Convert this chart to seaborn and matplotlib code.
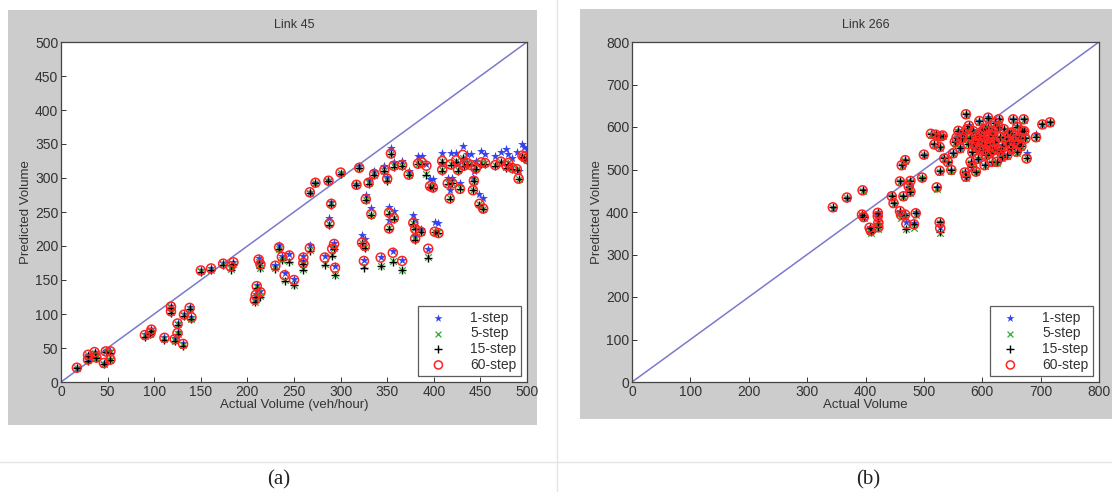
import numpy as np
import pandas as pd
import matplotlib
matplotlib.use("Agg")
import matplotlib.pyplot as plt
import seaborn as sns
from matplotlib.patches import Rectangle
from matplotlib.lines import Line2D

sns.set_theme(style="white")
plt.rcParams['font.family'] = ['Liberation Sans', 'DejaVu Sans']

series_names = ["1-step", "5-step", "15-step", "60-step"]

# ---- Link 45 data: actual, 1-step, 5-step, 15-step, 60-step ----
l45_actual = [17, 29, 29, 36, 38, 46, 48, 53, 53, 90, 96, 97, 111, 118, 118, 122, 125, 125, 131, 132,
              138, 140, 150, 161, 174, 182, 185, 208, 209, 210, 212, 214, 214, 230, 234, 237, 240, 245, 250, 260,
              260, 267, 267, 273, 283, 287, 288, 290, 291, 293, 294, 300, 317, 320, 323, 326, 325, 327, 330, 333,
              336, 343, 347, 350, 352, 352, 354, 356, 357, 357, 366, 366, 373, 378, 380, 380, 383, 386, 387, 392,
              394, 396, 399, 401, 405, 409, 409, 415, 417, 418, 420, 424, 426, 428, 431, 432, 436, 440, 442, 443,
              445, 449, 451, 453, 455, 466, 472, 478, 480, 484, 489, 491, 495, 497, 500]
l45_p1 = [21, 40, 33, 44, 36, 28, 46, 46, 34, 70, 73, 78, 66, 112, 105, 64, 87, 73, 57, 100,
          110, 96, 164, 168, 175, 171, 177, 122, 129, 142, 182, 134, 175, 172, 201, 186, 160, 188, 152, 185,
          178, 201, 280, 293, 185, 297, 241, 264, 199, 205, 170, 308, 291, 318, 216, 210, 180, 275, 297, 256,
          311, 184, 317, 302, 258, 238, 344, 192, 252, 323, 179, 325, 310, 246, 238, 215, 332, 225, 332, 320,
          196, 298, 298, 236, 234, 337, 320, 300, 282, 337, 300, 337, 320, 292, 347, 327, 336, 335, 300, 310,
          325, 277, 340, 270, 335, 333, 338, 343, 335, 330, 338, 310, 350, 345, 343]
l45_p5 = [20, 39, 32, 43, 35, 27, 45, 44, 33, 67, 70, 76, 63, 110, 103, 61, 85, 71, 54, 98,
          108, 93, 163, 165, 173, 166, 174, 118, 126, 139, 176, 126, 168, 167, 196, 180, 150, 178, 143, 174,
          166, 194, 278, 292, 173, 296, 232, 262, 187, 197, 158, 307, 289, 315, 205, 198, 170, 268, 292, 246,
          305, 171, 311, 297, 248, 226, 336, 178, 241, 317, 165, 318, 305, 234, 226, 210, 321, 221, 322, 306,
          184, 288, 287, 221, 220, 325, 312, 292, 270, 320, 293, 325, 312, 285, 330, 318, 322, 320, 283, 296,
          314, 262, 322, 255, 322, 319, 324, 316, 322, 314, 313, 299, 332, 330, 327]
l45_p15 = [20, 38, 31, 42, 35, 26, 44, 43, 32, 66, 70, 75, 62, 109, 102, 60, 84, 70, 53, 97,
           107, 92, 162, 164, 172, 165, 173, 117, 125, 138, 175, 125, 167, 166, 195, 179, 149, 177, 142, 173,
           165, 193, 278, 292, 172, 295, 231, 261, 186, 196, 157, 306, 289, 314, 204, 197, 168, 267, 291, 245,
           304, 170, 310, 296, 247, 225, 335, 177, 240, 316, 164, 317, 304, 233, 225, 209, 320, 220, 321, 305,
           183, 287, 286, 220, 219, 324, 311, 291, 269, 319, 292, 324, 311, 284, 329, 317, 321, 319, 282, 295,
           313, 261, 321, 254, 321, 318, 323, 315, 321, 313, 312, 298, 331, 329, 326]
l45_p60 = [21, 40, 33, 44, 36, 28, 45, 45, 33, 69, 72, 77, 65, 111, 104, 63, 86, 72, 56, 99,
           109, 95, 164, 167, 174, 170, 176, 121, 128, 141, 180, 132, 173, 171, 198, 184, 157, 186, 150, 183,
           175, 197, 279, 293, 183, 296, 233, 262, 196, 203, 168, 308, 290, 315, 205, 200, 178, 269, 293, 247,
           306, 183, 312, 299, 249, 226, 336, 190, 241, 318, 178, 319, 305, 234, 225, 211, 321, 221, 323, 318,
           196, 288, 286, 221, 219, 325, 312, 292, 270, 320, 292, 326, 312, 284, 334, 318, 322, 319, 282, 296,
           314, 262, 323, 255, 322, 319, 324, 318, 322, 315, 313, 299, 333, 331, 328]

# ---- Link 266 data ----
l266_actual = [344, 368, 395, 394, 397, 407, 409, 421, 421, 422, 422, 445, 448, 459, 462, 468, 465, 459, 461, 468,
               470, 474, 477, 477, 483, 486, 497, 500, 522, 527, 527, 528, 512, 518, 527, 532, 535, 541, 547, 550,
               553, 559, 565, 570, 572, 572, 574, 577, 580, 583, 583, 586, 589, 589, 592, 595, 595, 598, 601, 604,
               604, 604, 607, 610, 613, 613, 613, 616, 619, 619, 622, 625, 625, 628, 631, 631, 634, 637, 643, 643,
               650, 650, 653, 656, 659, 662, 668, 671, 674, 676, 692, 703, 716,
               520, 528, 556, 562, 568, 575, 579, 585, 588, 592, 596, 600, 603, 606, 609, 612, 615, 618, 621, 627,
               633, 640, 646, 648, 655, 660, 665, 667, 672]
l266_p1 = [409, 434, 452, 395, 389, 365, 358, 400, 392, 378, 366, 437, 422, 472, 510, 522, 437, 403, 395, 395,
           376, 460, 448, 473, 373, 399, 481, 535, 460, 497, 377, 364, 584, 559, 553, 580, 526, 518, 499, 538,
           565, 592, 573, 493, 483, 631, 596, 604, 518, 542, 507, 561, 580, 495, 526, 615, 549, 557, 569, 596,
           576, 510, 534, 623, 565, 584, 538, 518, 580, 545, 611, 549, 518, 619, 576, 545, 530, 596, 565, 534,
           549, 588, 619, 580, 542, 561, 592, 619, 573, 538, 583, 607, 612,
           583, 580, 577, 552, 587, 562, 577, 592, 555, 569, 582, 592, 547, 562, 600, 575, 557, 592, 567, 602,
           557, 577, 587, 562, 567, 602, 577, 557, 592]
l266_p5 = [410, 433, 450, 392, 386, 356, 351, 396, 387, 367, 360, 435, 418, 470, 508, 520, 435, 397, 387, 390,
           361, 458, 445, 471, 363, 393, 479, 533, 454, 495, 373, 350, 582, 557, 551, 578, 524, 515, 497, 536,
           562, 589, 571, 491, 481, 628, 593, 601, 516, 539, 504, 559, 577, 493, 523, 612, 547, 555, 566, 593,
           574, 508, 532, 620, 562, 581, 536, 516, 577, 543, 608, 546, 516, 616, 574, 542, 528, 593, 563, 532,
           546, 585, 616, 578, 540, 558, 589, 616, 571, 527, 575, 604, 610,
           581, 577, 574, 549, 584, 559, 574, 589, 552, 566, 579, 589, 544, 559, 597, 572, 554, 589, 564, 599,
           554, 574, 584, 559, 564, 599, 574, 554, 589]
l266_p15 = [411, 434, 451, 394, 388, 363, 352, 398, 390, 375, 364, 437, 421, 472, 510, 522, 437, 402, 393, 394,
            359, 460, 448, 473, 371, 397, 481, 535, 458, 497, 376, 353, 584, 559, 553, 580, 526, 518, 499, 538,
            565, 591, 573, 493, 483, 630, 595, 603, 518, 541, 506, 561, 579, 495, 525, 614, 549, 557, 568, 595,
            576, 510, 534, 622, 564, 583, 538, 518, 579, 545, 610, 548, 518, 618, 576, 544, 530, 595, 565, 534,
            548, 587, 618, 580, 542, 560, 591, 618, 573, 526, 576, 606, 611,
            582, 578, 575, 550, 585, 560, 575, 590, 553, 567, 580, 590, 545, 560, 598, 573, 555, 590, 565, 600,
            555, 575, 585, 560, 565, 600, 575, 555, 590]
l266_p60 = [411, 434, 451, 394, 388, 363, 356, 398, 390, 375, 364, 437, 421, 472, 510, 522, 437, 402, 393, 394,
            372, 460, 448, 473, 371, 397, 481, 535, 458, 497, 376, 362, 584, 559, 553, 580, 526, 518, 499, 538,
            565, 591, 573, 493, 483, 630, 595, 603, 518, 541, 506, 561, 579, 495, 525, 614, 549, 557, 568, 595,
            576, 510, 534, 622, 564, 583, 538, 518, 579, 545, 610, 548, 518, 618, 576, 544, 530, 595, 565, 534,
            548, 587, 618, 580, 542, 560, 591, 618, 573, 526, 576, 606, 611,
            582, 578, 575, 550, 585, 560, 575, 590, 553, 567, 580, 590, 545, 560, 598, 573, 555, 590, 565, 600,
            555, 575, 585, 560, 565, 600, 575, 555, 590]

panels = [
    dict(title="Link 45", xlabel="Actual Volume (veh/hour)", lim=500, step=50,
         actual=l45_actual, preds=[l45_p1, l45_p5, l45_p15, l45_p60]),
    dict(title="Link 266", xlabel="Actual Volume", lim=800, step=100,
         actual=l266_actual, preds=[l266_p1, l266_p5, l266_p15, l266_p60]),
]
panel_labels = ["(a)", "(b)"]
panel_label_x = [279, 868]

W, H = 1112, 492
fig = plt.figure(figsize=(W / 100, H / 100), dpi=100)
fig.patch.set_facecolor("white")

def fx(px):
    return px / W

def fy(py):
    return 1 - py / H

# grey panel backgrounds
grey_boxes = [(8, 10, 537, 425), (580, 9, 1112, 419)]
for (x0, y0, x1, y1) in grey_boxes:
    fig.add_artist(Rectangle((fx(x0), fy(y1)), fx(x1 - x0), (y1 - y0) / H,
                             transform=fig.transFigure, facecolor="#cccccc",
                             edgecolor="none", zorder=-10))
# separator lines
fig.add_artist(Line2D([fx(557), fx(557)], [0, 1], transform=fig.transFigure,
                      color="#e4e4e4", lw=1, zorder=-10))
fig.add_artist(Line2D([0, 1], [fy(462), fy(462)], transform=fig.transFigure,
                      color="#e4e4e4", lw=1, zorder=-10))

axes_px = [(61, 42, 527, 382), (632, 42, 1099, 382)]
styles = [
    dict(marker="*", color="#3344ee", s=45, lw=0),
    dict(marker="x", color="#33aa33", s=22, lw=0.9),
    dict(marker="+", color="black", s=40, lw=1.0),
    dict(marker="o", color="#ff2222", s=42, lw=1.1),
]

for p, (x0, y0, x1, y1), lab, lx in zip(panels, axes_px, panel_labels, panel_label_x):
    ax = fig.add_axes([fx(x0), fy(y1), fx(x1 - x0), (y1 - y0) / H])
    ax.set_zorder(1)
    ax.set_facecolor("white")
    lim = p["lim"]
    sns.lineplot(x=[0, lim], y=[0, lim], ax=ax, color="#7a7acc", lw=1.1, zorder=1)
    for name, pred, st in zip(series_names, p["preds"], styles):
        df = pd.DataFrame({"actual": p["actual"], "pred": pred})
        if st["marker"] == "o":
            sns.scatterplot(data=df, x="actual", y="pred", ax=ax, marker="o", s=st["s"],
                            facecolors="none", edgecolors=st["color"], linewidths=st["lw"],
                            label=name, zorder=2)
        else:
            sns.scatterplot(data=df, x="actual", y="pred", ax=ax, marker=st["marker"], s=st["s"],
                            color=st["color"], linewidth=st["lw"], label=name, zorder=2)
    ax.set_xlim(0, lim)
    ax.set_ylim(0, lim)
    ticks = np.arange(0, lim + 1, p["step"])
    ax.set_xticks(ticks)
    ax.set_yticks(ticks)
    ax.tick_params(direction="in", length=3.5, width=0.7, labelsize=10,
                   colors="#333333", pad=2, top=False, right=False, bottom=True, left=True)
    for s in ax.spines.values():
        s.set_color("#444444")
        s.set_linewidth(0.9)
        s.set_visible(True)
    ax.set_title(p["title"], fontsize=9, color="#333333", pad=10)
    ax.set_xlabel(p["xlabel"], fontsize=9.5, color="#333333", labelpad=0)
    ax.set_ylabel("Predicted Volume", fontsize=9.5, color="#333333", labelpad=2)
    leg = ax.legend(loc="lower right", fontsize=10, frameon=True, fancybox=False,
                    borderaxespad=0.4, handletextpad=1.2, labelspacing=0.12,
                    borderpad=0.35, handlelength=2.2, markerscale=0.9)
    leg.get_frame().set_edgecolor("#333333")
    leg.get_frame().set_linewidth(0.9)
    for t in leg.get_texts():
        t.set_color("#333333")
    fig.text(fx(lx), fy(480), lab, ha="center", va="center",
             fontsize=15, family=["Liberation Serif", "DejaVu Serif"], color="#222222")

fig.savefig("out.png", dpi=100, facecolor="white")
